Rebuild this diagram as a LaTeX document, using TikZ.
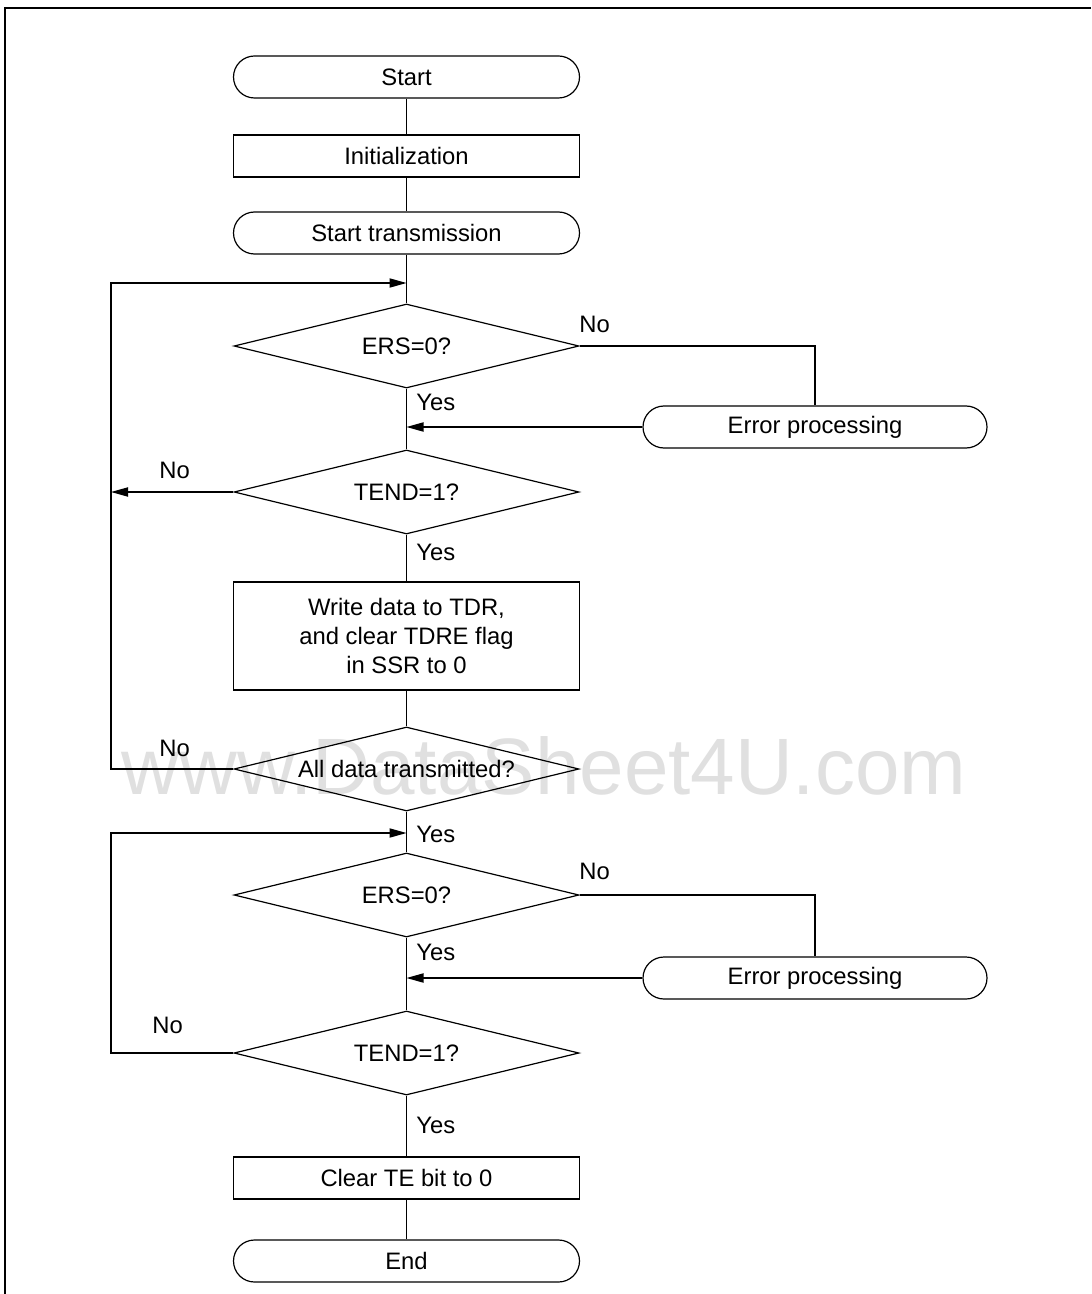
\documentclass[tikz,border=0pt]{standalone}
\usepackage{fontspec}
\setmainfont{Liberation Sans}
\usetikzlibrary{arrows.meta,shapes.geometric}
\definecolor{Mark}{HTML}{E0E0E0}
\newcommand{\flowfont}{\fontsize{11.9}{14.5}\selectfont}
\tikzset{
  >={Triangle[length=8.5pt,width=4.6pt]},
  term/.style={rectangle,rounded corners=10.5pt,draw,line width=.6pt,minimum width=173pt,minimum height=21pt,inner sep=0pt,font=\flowfont},
  proc/.style={rectangle,draw,line width=.6pt,minimum width=173pt,minimum height=21pt,inner sep=0pt,font=\flowfont},
  dec/.style={diamond,draw,line width=.6pt,aspect=4.1,minimum width=172.5pt,minimum height=42pt,inner sep=0pt,font=\flowfont},
  flow/.style={line width=.6pt},
  arr/.style={flow,->},
  lab/.style={font=\flowfont,inner sep=0pt,anchor=base west}
}
\begin{document}
\begin{tikzpicture}[x=.5pt,y=-.5pt]
  \useasboundingbox (0,0) rectangle (1091,1294);
  % watermark behind everything
  \node[font=\fontsize{40}{48}\selectfont,text=Mark,inner sep=0pt,anchor=base] (wm) at (544,794) {www.DataSheet4U.com};
  \draw[line width=.9pt] (5,1294) -- (5,8) -- (1091,8);

  \node[term] (start) at (406.5,77) {Start};
  \node[proc] (init) at (406.5,156) {Initialization};
  \node[term] (sttx) at (406.5,233) {Start transmission};
  \node[dec] (ers1) at (406.5,346) {ERS=0?};
  \node[term,minimum width=172pt] (err1) at (815,427) {Error processing};
  \node[dec] (tend1) at (406.5,492) {TEND=1?};
  \node[proc,minimum height=54pt,align=center] (wrt) at (406.5,636) {Write data to TDR,\\and clear TDRE flag\\in SSR to 0};
  \node[dec] (all) at (406.5,769) {All data transmitted?};
  \node[dec] (ers2) at (406.5,895) {ERS=0?};
  \node[term,minimum width=172pt] (err2) at (815,978) {Error processing};
  \node[dec] (tend2) at (406.5,1053) {TEND=1?};
  \node[proc] (clr) at (406.5,1178) {Clear TE bit to 0};
  \node[term] (end) at (406.5,1261) {End};

  \coordinate (j1) at (406.5,283); \coordinate (l1) at (111,283);
  \coordinate (t1) at (111,492);
  \coordinate (j3) at (406.5,833); \coordinate (l3) at (111,833);

  % main column
  \draw[flow] (start) -- (init); \draw[flow] (init) -- (sttx);
  \draw[flow] (sttx) -- (ers1); \draw[flow] (ers1) -- (tend1);
  \draw[flow] (tend1) -- (wrt); \draw[flow] (wrt) -- (all);
  \draw[flow] (all) -- (ers2); \draw[flow] (ers2) -- (tend2);
  \draw[flow] (tend2) -- (clr); \draw[flow] (clr) -- (end);

  % error branches
  \draw[flow] (ers1.east) -| (err1.north);
  \draw[arr] (err1.west) -- (err1.west -| ers1.south);
  \draw[flow] (ers2.east) -| (err2.north);
  \draw[arr] (err2.west) -- (err2.west -| ers2.south);

  % loops
  \draw[arr] (tend1.west) -- (t1);
  \draw[arr] (all.west) -| (l1) -- (j1);
  \draw[arr] (tend2.west) -| (l3) -- (j3);

  \node[lab] (n1) at (579,333) {No};
  \node[lab] (y1) at (416,410) {Yes};
  \node[lab] (n2) at (159,478) {No};
  \node[lab] (y2) at (416,560) {Yes};
  \node[lab] (n3) at (159,756) {No};
  \node[lab] (y3) at (416,842) {Yes};
  \node[lab] (n4) at (579,879) {No};
  \node[lab] (y4) at (416,960) {Yes};
  \node[lab] (n5) at (152,1033) {No};
  \node[lab] (y5) at (416,1133) {Yes};
\end{tikzpicture}
\end{document}
